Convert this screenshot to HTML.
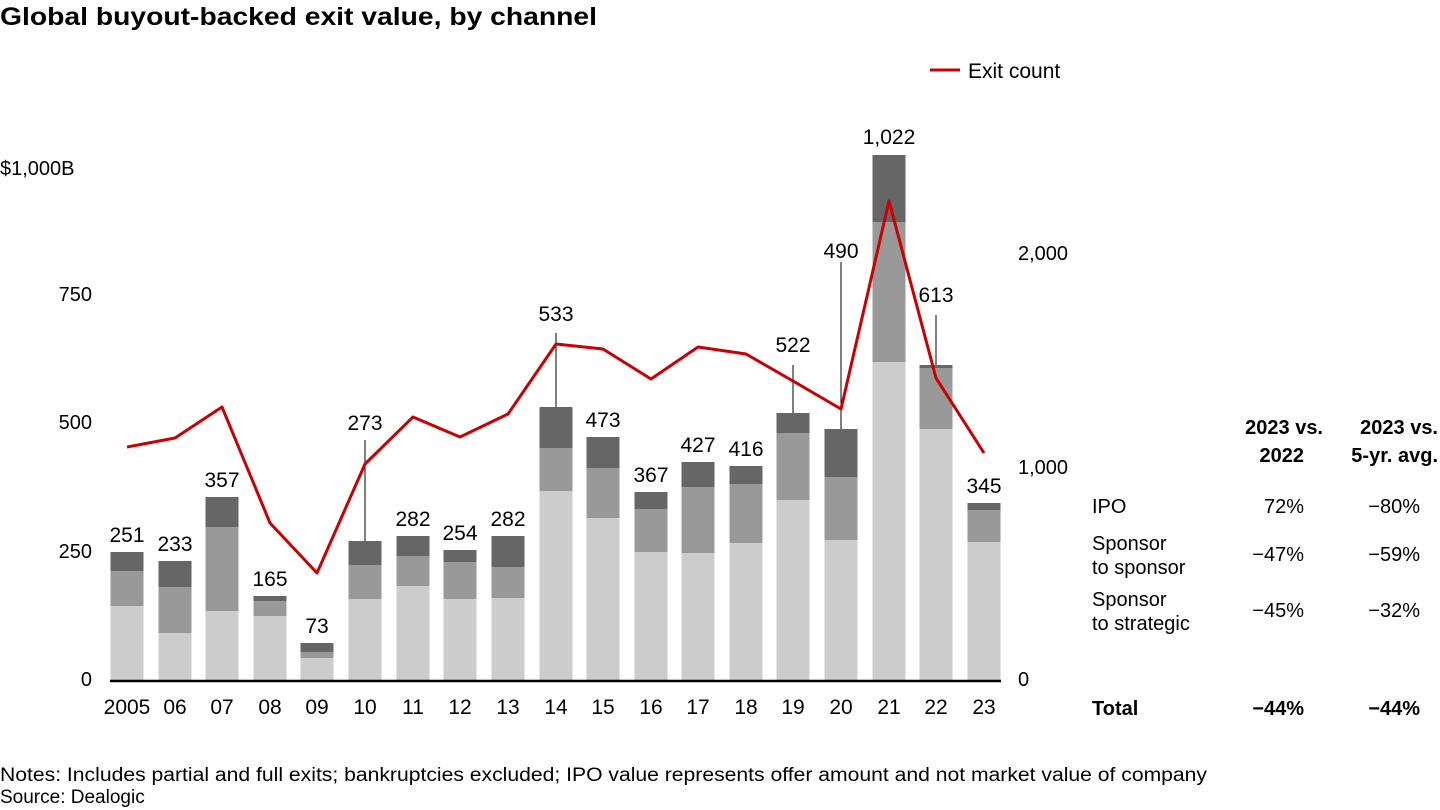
<!DOCTYPE html>
<html><head><meta charset="utf-8"><style>
body{margin:0;background:#fff;}
svg{display:block;font-family:"Liberation Sans",sans-serif;}
</style></head><body>
<svg width="1440" height="810" viewBox="0 0 1440 810" xmlns="http://www.w3.org/2000/svg">
<text x="0" y="25" font-size="25" font-weight="bold" fill="#000" textLength="597" lengthAdjust="spacingAndGlyphs">Global buyout-backed exit value, by channel</text>
<line x1="930" y1="70" x2="960" y2="70" stroke="#cc0000" stroke-width="3"/>
<text x="968" y="78" font-size="21" fill="#000">Exit count</text>
<g font-size="20" fill="#000">
<text x="0" y="175">$1,000B</text>
<text x="92" y="301" text-anchor="end">750</text>
<text x="92" y="429" text-anchor="end">500</text>
<text x="92" y="558" text-anchor="end">250</text>
<text x="92" y="686" text-anchor="end">0</text>
<text x="1018" y="260">2,000</text>
<text x="1018" y="474">1,000</text>
<text x="1018" y="686">0</text>
</g>
<g stroke="#000" stroke-width="1">
<line x1="365" y1="440" x2="365" y2="541"/>
<line x1="556" y1="333" x2="556" y2="407"/>
<line x1="793" y1="365" x2="793" y2="413"/>
<line x1="841" y1="262" x2="841" y2="429"/>
<line x1="936" y1="315" x2="936" y2="365"/>
</g>
<g>
<rect x="110.5" y="552" width="33" height="19" fill="#666"/><rect x="110.5" y="571" width="33" height="35" fill="#999"/><rect x="110.5" y="606" width="33" height="74" fill="#ccc"/>
<rect x="158.5" y="561" width="33" height="26" fill="#666"/><rect x="158.5" y="587" width="33" height="46" fill="#999"/><rect x="158.5" y="633" width="33" height="47" fill="#ccc"/>
<rect x="205.5" y="497" width="33" height="30" fill="#666"/><rect x="205.5" y="527" width="33" height="84" fill="#999"/><rect x="205.5" y="611" width="33" height="69" fill="#ccc"/>
<rect x="253.5" y="596" width="33" height="5" fill="#666"/><rect x="253.5" y="601" width="33" height="15" fill="#999"/><rect x="253.5" y="616" width="33" height="64" fill="#ccc"/>
<rect x="300.5" y="643" width="33" height="9" fill="#666"/><rect x="300.5" y="652" width="33" height="6" fill="#999"/><rect x="300.5" y="658" width="33" height="22" fill="#ccc"/>
<rect x="348.5" y="541" width="33" height="24" fill="#666"/><rect x="348.5" y="565" width="33" height="34" fill="#999"/><rect x="348.5" y="599" width="33" height="81" fill="#ccc"/>
<rect x="396.5" y="536" width="33" height="20" fill="#666"/><rect x="396.5" y="556" width="33" height="30" fill="#999"/><rect x="396.5" y="586" width="33" height="94" fill="#ccc"/>
<rect x="443.5" y="550" width="33" height="12" fill="#666"/><rect x="443.5" y="562" width="33" height="37" fill="#999"/><rect x="443.5" y="599" width="33" height="81" fill="#ccc"/>
<rect x="491.5" y="536" width="33" height="31" fill="#666"/><rect x="491.5" y="567" width="33" height="31" fill="#999"/><rect x="491.5" y="598" width="33" height="82" fill="#ccc"/>
<rect x="539.5" y="407" width="33" height="41" fill="#666"/><rect x="539.5" y="448" width="33" height="43" fill="#999"/><rect x="539.5" y="491" width="33" height="189" fill="#ccc"/>
<rect x="586.5" y="437" width="33" height="31" fill="#666"/><rect x="586.5" y="468" width="33" height="50" fill="#999"/><rect x="586.5" y="518" width="33" height="162" fill="#ccc"/>
<rect x="634.5" y="492" width="33" height="17" fill="#666"/><rect x="634.5" y="509" width="33" height="43" fill="#999"/><rect x="634.5" y="552" width="33" height="128" fill="#ccc"/>
<rect x="681.5" y="462" width="33" height="25" fill="#666"/><rect x="681.5" y="487" width="33" height="66" fill="#999"/><rect x="681.5" y="553" width="33" height="127" fill="#ccc"/>
<rect x="729.5" y="466" width="33" height="18" fill="#666"/><rect x="729.5" y="484" width="33" height="59" fill="#999"/><rect x="729.5" y="543" width="33" height="137" fill="#ccc"/>
<rect x="776.5" y="413" width="33" height="20" fill="#666"/><rect x="776.5" y="433" width="33" height="67" fill="#999"/><rect x="776.5" y="500" width="33" height="180" fill="#ccc"/>
<rect x="824.5" y="429" width="33" height="48" fill="#666"/><rect x="824.5" y="477" width="33" height="63" fill="#999"/><rect x="824.5" y="540" width="33" height="140" fill="#ccc"/>
<rect x="872.5" y="155" width="33" height="67" fill="#666"/><rect x="872.5" y="222" width="33" height="140" fill="#999"/><rect x="872.5" y="362" width="33" height="318" fill="#ccc"/>
<rect x="919.5" y="365" width="33" height="3" fill="#666"/><rect x="919.5" y="368" width="33" height="61" fill="#999"/><rect x="919.5" y="429" width="33" height="251" fill="#ccc"/>
<rect x="967.5" y="503" width="33" height="7" fill="#666"/><rect x="967.5" y="510" width="33" height="32" fill="#999"/><rect x="967.5" y="542" width="33" height="138" fill="#ccc"/>
</g>
<line x1="110" y1="681" x2="1001" y2="681" stroke="#000" stroke-width="2.5"/>
<g font-size="21" fill="#000" text-anchor="middle">
<text x="127" y="542">251</text><text x="175" y="551">233</text><text x="222" y="487">357</text><text x="270" y="586">165</text><text x="317" y="633">73</text><text x="365" y="430">273</text><text x="413" y="526">282</text><text x="460" y="540">254</text><text x="508" y="526">282</text><text x="556" y="321">533</text><text x="603" y="427">473</text><text x="651" y="482">367</text><text x="698" y="452">427</text><text x="746" y="456">416</text><text x="793" y="352">522</text><text x="841" y="258">490</text><text x="889" y="144">1,022</text><text x="936" y="302">613</text><text x="984" y="493">345</text>
<text x="127" y="714">2005</text><text x="175" y="714">06</text><text x="222" y="714">07</text><text x="270" y="714">08</text><text x="317" y="714">09</text><text x="365" y="714">10</text><text x="413" y="714">11</text><text x="460" y="714">12</text><text x="508" y="714">13</text><text x="556" y="714">14</text><text x="603" y="714">15</text><text x="651" y="714">16</text><text x="698" y="714">17</text><text x="746" y="714">18</text><text x="793" y="714">19</text><text x="841" y="714">20</text><text x="889" y="714">21</text><text x="936" y="714">22</text><text x="984" y="714">23</text>
</g>
<polyline fill="none" stroke="#cc0000" stroke-width="3" stroke-linejoin="round" points="127,447 175,438 222,407 270,523 317,573 365,464 413,417 460,437 508,414 556,344 603,349 651,379 698,347 746,354 793,381 841,409 889,201 936,378 984,453"/>
<g font-size="20" fill="#000">
<text x="1323" y="434" text-anchor="end" font-weight="bold">2023 vs.</text>
<text x="1304" y="462" text-anchor="end" font-weight="bold">2022</text>
<text x="1438" y="434" text-anchor="end" font-weight="bold">2023 vs.</text>
<text x="1438" y="462" text-anchor="end" font-weight="bold">5-yr. avg.</text>
<text x="1092" y="513">IPO</text>
<text x="1304" y="513" text-anchor="end">72%</text>
<text x="1420" y="513" text-anchor="end">−80%</text>
<text x="1092" y="550">Sponsor</text>
<text x="1092" y="574">to sponsor</text>
<text x="1304" y="561" text-anchor="end">−47%</text>
<text x="1420" y="561" text-anchor="end">−59%</text>
<text x="1092" y="606">Sponsor</text>
<text x="1092" y="630">to strategic</text>
<text x="1304" y="617" text-anchor="end">−45%</text>
<text x="1420" y="617" text-anchor="end">−32%</text>
<text x="1092" y="715" font-weight="bold">Total</text>
<text x="1304" y="715" text-anchor="end" font-weight="bold">−44%</text>
<text x="1420" y="715" text-anchor="end" font-weight="bold">−44%</text>
</g>
<text x="0" y="781" font-size="19" textLength="1207" lengthAdjust="spacingAndGlyphs">Notes: Includes partial and full exits; bankruptcies excluded; IPO value represents offer amount and not market value of company</text>
<text x="0" y="803" font-size="19">Source: Dealogic</text>
</svg>
</body></html>
